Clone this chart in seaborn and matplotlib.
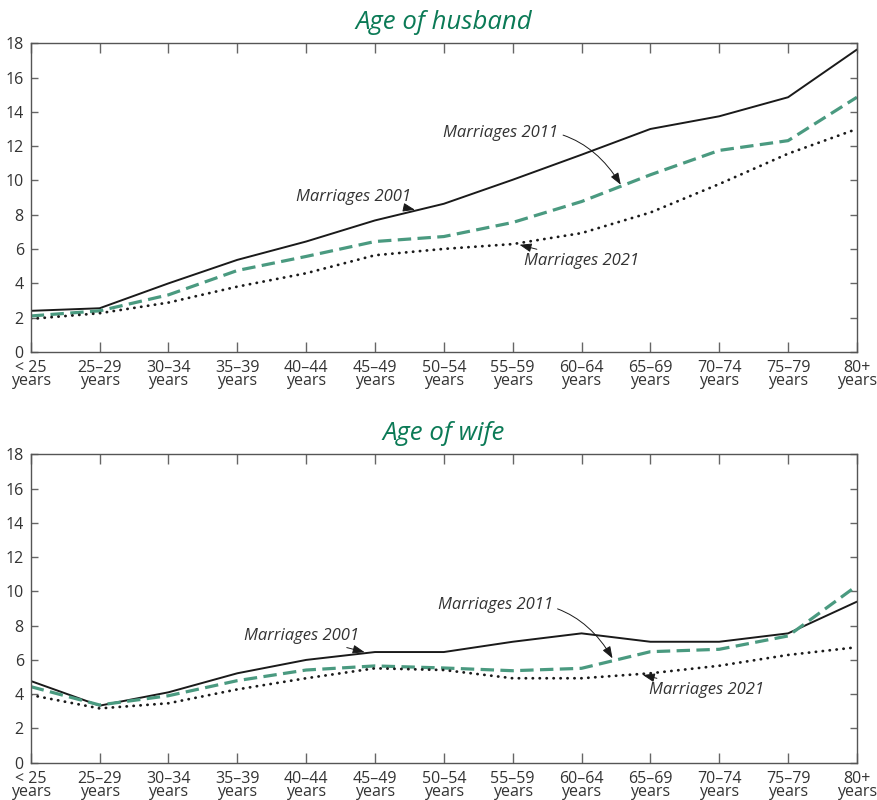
import matplotlib
matplotlib.use("Agg")
import matplotlib.pyplot as plt
import pandas as pd
import seaborn as sns


AGE_GROUPS = ["< 25", "25–29", "30–34", "35–39", "40–44", "45–49", "50–54",
              "55–59", "60–64", "65–69", "70–74", "75–79", "80+"]

HUSBAND_2001 = [2.4, 2.55, 4.0, 5.37, 6.44, 7.67, 8.64, 10.04, 11.5, 13.0, 13.74, 14.85, 17.63]
HUSBAND_2011 = [2.1, 2.4, 3.33, 4.75, 5.57, 6.44, 6.73, 7.55, 8.77, 10.33, 11.75, 12.32, 14.85]
HUSBAND_2021 = [1.93, 2.26, 2.88, 3.81, 4.59, 5.64, 6.01, 6.29, 6.93, 8.13, 9.79, 11.56, 13.0]

WIFE_2001 = [4.77, 3.33, 4.11, 5.22, 6.0, 6.46, 6.46, 7.06, 7.55, 7.06, 7.06, 7.55, 9.4]
WIFE_2011 = [4.44, 3.37, 3.91, 4.79, 5.41, 5.65, 5.53, 5.37, 5.51, 6.48, 6.62, 7.4, 10.33]
WIFE_2021 = [3.95, 3.17, 3.47, 4.28, 4.93, 5.51, 5.41, 4.93, 4.93, 5.22, 5.66, 6.29, 6.74]

TITLE_GREEN = "#0b7a56"
DASH_GREEN = "#4a9a80"
SPINE_GREY = "#555555"

sns.set_theme(style="white")
plt.rcParams["font.family"] = ["Open Sans", "DejaVu Sans"]


def draw_panel(ax, title, s2001, s2011, s2021, notes):
    pos = list(range(len(AGE_GROUPS)))
    df = pd.DataFrame({"pos": pos, "m2001": s2001, "m2011": s2011, "m2021": s2021})

    sns.lineplot(data=df, x="pos", y="m2001", ax=ax, color="#1a1a1a", lw=1.4)
    sns.lineplot(data=df, x="pos", y="m2011", ax=ax, color=DASH_GREEN, lw=2.3,
                 linestyle=(0, (4.2, 2.0)))
    sns.lineplot(data=df, x="pos", y="m2021", ax=ax, color="#1a1a1a", lw=2.0,
                 linestyle=(0, (0.1, 2.4)), dash_capstyle="round")

    ax.set_xlim(0, len(AGE_GROUPS) - 1)
    ax.set_ylim(0, 18)
    ax.set_xticks(pos)
    ax.set_xticklabels([f"{a}\nyears" for a in AGE_GROUPS], fontsize=11.5,
                       linespacing=0.72, color="#333333")
    ax.set_yticks(range(0, 19, 2))
    ax.set_yticklabels([str(v) for v in range(0, 19, 2)], fontsize=11.5, color="#333333")
    ax.set_xlabel("")
    ax.set_ylabel("")

    ax.tick_params(axis="x", direction="in", length=7, width=1, color="#666666",
                   top=True, bottom=True, pad=6)
    ax.tick_params(axis="y", direction="in", length=5, width=1, color="#666666",
                   left=True, right=True, pad=5)
    for sp in ax.spines.values():
        sp.set_color(SPINE_GREY)
        sp.set_linewidth(1.0)

    ax.set_title(title, fontsize=18.5, style="italic", color=TITLE_GREEN, pad=10)

    for label, text_xy, tip_xy, rad in notes:
        ax.annotate(label, xy=tip_xy, xytext=text_xy, ha="center", va="center",
                    fontsize=12, style="italic", color="#333333",
                    arrowprops=dict(arrowstyle="-|>,head_length=0.6,head_width=0.22",
                                    color="#1a1a1a", lw=0.7, shrinkA=1, shrinkB=0,
                                    connectionstyle=f"arc3,rad={rad}"))


fig = plt.figure(figsize=(8.78, 8.0), dpi=100)
ax_top = fig.add_axes([0.035, 0.56, 0.941, 0.386])
ax_bot = fig.add_axes([0.035, 0.0466, 0.941, 0.3855])

draw_panel(ax_top, "Age of husband", HUSBAND_2001, HUSBAND_2011, HUSBAND_2021, [
    ("Marriages 2001", (4.69, 9.05), (5.58, 8.29), 0.0),
    ("Marriages 2011", (6.83, 12.78), (8.57, 9.75), -0.35),
    ("Marriages 2021", (8.0, 5.31), (7.1, 6.25), 0.0),
])
draw_panel(ax_bot, "Age of wife", WIFE_2001, WIFE_2011, WIFE_2021, [
    ("Marriages 2001", (3.94, 7.4), (4.85, 6.45), 0.0),
    ("Marriages 2011", (6.75, 9.2), (8.45, 6.09), -0.35),
    ("Marriages 2021", (9.81, 4.25), (8.89, 5.12), 0.0),
])

fig.savefig("out.png", dpi=100)
